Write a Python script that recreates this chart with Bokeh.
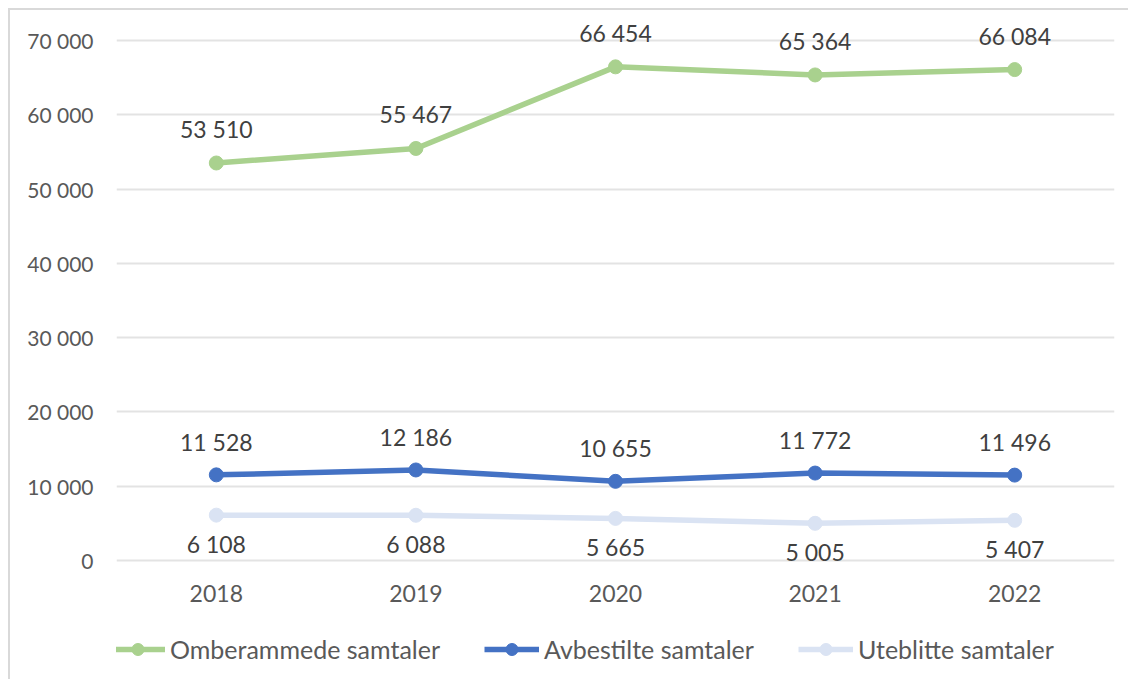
from bokeh.plotting import figure
from bokeh.models import ColumnDataSource, LabelSet, Legend, LegendItem, Range1d, FactorRange
from bokeh.core.properties import value
from bokeh.embed import file_html
from bokeh.resources import INLINE

years = ["2018", "2019", "2020", "2021", "2022"]
omberammede = [53510, 55467, 66454, 65364, 66084]
avbestilte = [11528, 12186, 10655, 11772, 11496]
uteblitte = [6108, 6088, 5665, 5005, 5407]
series_names = ["Omberammede samtaler", "Avbestilte samtaler", "Uteblitte samtaler"]
y_ticks = [0, 10000, 20000, 30000, 40000, 50000, 60000, 70000]
y_tick_labels = ["0", "10 000", "20 000", "30 000", "40 000", "50 000", "60 000", "70 000"]

FONT = "Lato"
colors = ["#A9D18E", "#4472C4", "#DAE3F3"]

def fmt(v):
    return f"{v:,}".replace(",", " ")

# frame spans down to the legend; 0 sits at the x-axis line
p = figure(width=1120, height=671, output_backend="svg", toolbar_location=None,
           x_range=FactorRange(*years), y_range=Range1d(-15615, 73769),
           min_border_left=106, min_border_right=16, min_border_top=2, min_border_bottom=5)
p.x_range.range_padding = 0
p.outline_line_color = None
p.background_fill_color = "white"
p.border_fill_color = "white"
p.styles = {"margin-left": "8px", "margin-top": "8px",
            "border-left": "2px solid #d9d9d9", "border-top": "2px solid #d9d9d9"}

p.xgrid.grid_line_color = None
p.ygrid.grid_line_color = "#e3e3e3"
p.ygrid.grid_line_width = 2
p.ygrid.ticker = y_ticks

p.yaxis.ticker = y_ticks
p.yaxis.major_label_overrides = {t: l for t, l in zip(y_ticks, y_tick_labels)}
for ax in (p.xaxis, p.yaxis):
    ax.axis_line_color = None
    ax.major_tick_line_color = None
    ax.minor_tick_line_color = None
    ax.major_tick_out = 0
    ax.major_tick_in = 0
    ax.major_label_text_font = FONT
    ax.major_label_text_color = "#595959"
p.yaxis.major_label_text_font_size = "21px"
p.xaxis.major_label_text_font_size = "23px"
p.yaxis.major_label_standoff = 23
p.xaxis.major_label_standoff = 24
p.xaxis.fixed_location = 0

items = []
for name, vals, col, off in zip(series_names, [omberammede, avbestilte, uteblitte], colors, [34, 33, -29]):
    src = ColumnDataSource(dict(x=years, y=vals, lbl=[fmt(v) for v in vals]))
    r1 = p.line("x", "y", source=src, line_color=col, line_width=5.5)
    r2 = p.scatter("x", "y", source=src, size=14, fill_color=col, line_color=col)
    items.append(LegendItem(label=name, renderers=[r1, r2]))
    ls = LabelSet(x="x", y="y", text="lbl", source=src, y_offset=off,
                  text_align="center", text_baseline="middle",
                  text_font=value(FONT), text_font_size="23px", text_color="#404040")
    p.add_layout(ls)

legend = Legend(items=items, orientation="horizontal", location=(-6, 12),
                glyph_width=55, glyph_height=30, label_standoff=5, spacing=44,
                padding=0, margin=0, border_line_color=None, background_fill_alpha=0,
                label_text_font=FONT, label_text_font_size="25px", label_text_color="#595959")
p.add_layout(legend, "center")

open("out.html", "w").write(file_html(p, INLINE))
